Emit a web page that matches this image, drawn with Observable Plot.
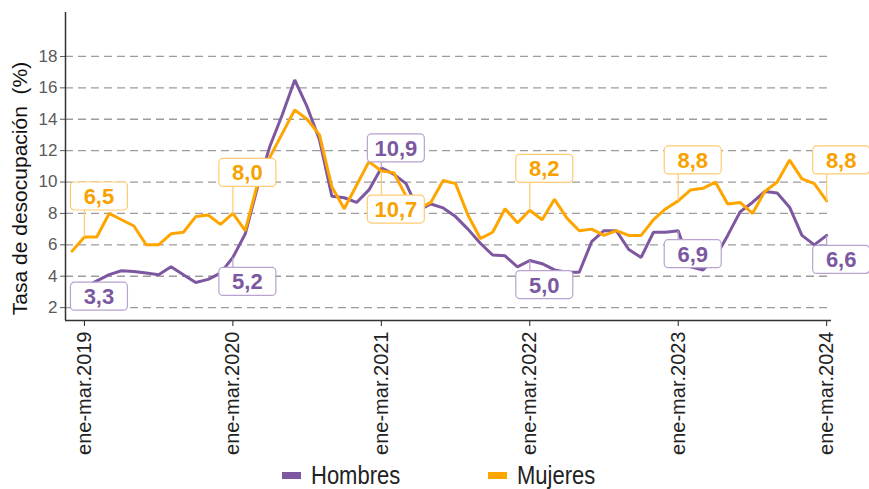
<!DOCTYPE html>
<html><head><meta charset="utf-8">
<script src="https://cdn.jsdelivr.net/npm/d3@7"></script>
<script src="https://cdn.jsdelivr.net/npm/@observablehq/plot@0.6"></script>
<style>
body{margin:0;background:#fff;}
#wrap{position:relative;width:869px;height:489px;overflow:hidden;}
.leg{position:absolute;top:461px;height:28px;display:flex;align-items:center;font-family:"Liberation Sans",Arial,sans-serif;font-size:25px;color:#222;line-height:28px;}
.leg .t{display:inline-block;transform:scaleX(0.88);transform-origin:left center;white-space:nowrap;}
.sw{display:inline-block;width:19px;height:7px;margin-right:10px;}
</style></head><body>
<div id="wrap"><div id="chart"></div>
<div class="leg" style="left:282px"><span class="sw" style="background:#7D58A0"></span><span class="t">Hombres</span></div>
<div class="leg" style="left:488px"><span class="sw" style="background:#FFA500"></span><span class="t">Mujeres</span></div>
</div>
<script>
// Rolling quarters, dic-feb 2019 .. ene-mar 2024
const periods = [
  "dic-feb.2019",
  "ene-mar.2019","feb-abr.2019","mar-may.2019","abr-jun.2019","may-jul.2019","jun-ago.2019","jul-sep.2019","ago-oct.2019","sep-nov.2019","oct-dic.2019","nov-ene.2020","dic-feb.2020",
  "ene-mar.2020","feb-abr.2020","mar-may.2020","abr-jun.2020","may-jul.2020","jun-ago.2020","jul-sep.2020","ago-oct.2020","sep-nov.2020","oct-dic.2020","nov-ene.2021","dic-feb.2021",
  "ene-mar.2021","feb-abr.2021","mar-may.2021","abr-jun.2021","may-jul.2021","jun-ago.2021","jul-sep.2021","ago-oct.2021","sep-nov.2021","oct-dic.2021","nov-ene.2022","dic-feb.2022",
  "ene-mar.2022","feb-abr.2022","mar-may.2022","abr-jun.2022","may-jul.2022","jun-ago.2022","jul-sep.2022","ago-oct.2022","sep-nov.2022","oct-dic.2022","nov-ene.2023","dic-feb.2023",
  "ene-mar.2023","feb-abr.2023","mar-may.2023","abr-jun.2023","may-jul.2023","jun-ago.2023","jul-sep.2023","ago-oct.2023","sep-nov.2023","oct-dic.2023","nov-ene.2024","dic-feb.2024",
  "ene-mar.2024"
];
const hombres = [
  3.2,
  3.3,3.7,4.1,4.35,4.3,4.2,4.1,4.6,4.1,3.6,3.8,4.2,
  5.2,6.7,9.7,12.3,14.3,16.5,14.8,12.7,9.1,9.0,8.7,9.5,
  10.9,10.5,9.9,8.2,8.6,8.35,7.8,7.0,6.1,5.35,5.3,4.6,
  5.0,4.8,4.4,4.25,4.25,6.2,6.9,6.9,5.7,5.2,6.8,6.8,
  6.9,4.6,4.4,5.2,6.6,8.1,8.7,9.4,9.3,8.4,6.6,6.0,
  6.6
];
const mujeres = [
  5.6,
  6.5,6.5,8.0,7.6,7.2,6.0,6.0,6.7,6.8,7.8,7.9,7.3,
  8.0,6.9,9.9,11.6,13.1,14.6,14.0,13.0,9.7,8.3,9.8,11.3,
  10.7,10.6,9.1,8.3,8.7,10.1,9.9,7.9,6.4,6.8,8.3,7.4,
  8.2,7.6,8.9,7.7,6.9,7.0,6.6,6.9,6.6,6.6,7.6,8.3,
  8.8,9.5,9.6,10.0,8.6,8.7,8.0,9.4,10.0,11.4,10.2,9.9,
  8.8
];
const series = ["Hombres","Mujeres"];
const yTicks = [2,4,6,8,10,12,14,16,18];
const xTicks = [1,13,25,37,49,61];
const labelK = [1,13,25,37,49,61];
const labelHombres = [3.3,5.2,10.9,5.0,6.9,6.6];
const labelMujeres = [6.5,8.0,10.7,8.2,8.8,8.8];

const PURPLE = "#7D58A0", ORANGE = "#FFA500";
const PURPLE_TXT = "#7B58A0", ORANGE_TXT = "#F7A200";
const PURPLE_BOX = "#B8A2D0", ORANGE_BOX = "#FFCB70";
// box vertical offsets (px, box centre relative to point)
const offH = [9,24,-20,24,23,24];
const offM = [-41,-41,38,-42,-41,-41];

const data = [];
periods.forEach((p,k)=>{
  data.push({k, period:p, sexo:"Hombres", v:hombres[k]});
  data.push({k, period:p, sexo:"Mujeres", v:mujeres[k]});
});
const fmt = v => d3.format(".1f")(v).replace(".", ",");

function boxSymbol(c){
  const w=57, h=28, left=-14, r=4;
  return {draw(ctx){
    const top=c-h/2, bot=c+h/2, right=left+w;
    ctx.moveTo(left+r, top);
    ctx.lineTo(right-r, top);
    ctx.arcTo(right, top, right, top+r, r);
    ctx.lineTo(right, bot-r);
    ctx.arcTo(right, bot, right-r, bot, r);
    ctx.lineTo(left+r, bot);
    ctx.arcTo(left, bot, left, bot-r, r);
    ctx.lineTo(left, top+r);
    ctx.arcTo(left, top, left+r, top, r);
    ctx.closePath();
    if (bot < 0) { ctx.moveTo(0,0); ctx.lineTo(0,bot); }
    else if (top > 0) { ctx.moveTo(0,0); ctx.lineTo(0,top); }
  }};
}
const labelMarks = [];
function addLabels(vals, offs, boxCol, txtCol){
  vals.forEach((v,j)=>{
    const row = [{k:labelK[j], v, t:fmt(v)}];
    labelMarks.push(Plot.dot(row, {x:"k", y:"v", r:5, symbol: boxSymbol(offs[j]), fill:"white", stroke: boxCol, strokeWidth:1.2}));
    labelMarks.push(Plot.text(row, {x:"k", y:"v", text:"t", dx:14.5, dy:offs[j]+1, fontSize:22, fontWeight:"bold", fill: txtCol}));
  });
}
addLabels(labelHombres, offH, PURPLE_BOX, PURPLE_TXT);
addLabels(labelMujeres, offM, ORANGE_BOX, ORANGE_TXT);

const X0 = -0.53, X1 = 61.39, Y0 = 1.18, Y1 = 20.8;
const chart = Plot.plot({
  width: 869, height: 460,
  marginLeft: 65, marginRight: 38, marginTop: 12, marginBottom: 140,
  style: {fontFamily: "'Liberation Sans', Arial, sans-serif", background: "#fff"},
  x: {domain: [X0, X1]},
  y: {domain: [Y0, Y1]},
  color: {domain: series, range: [PURPLE, ORANGE]},
  marks: [
    Plot.gridY(yTicks, {stroke:"#9c9c9c", strokeOpacity:1, strokeDasharray:"8,5", strokeWidth:1.3}),
    Plot.axisY(yTicks, {tickSize:5, tickPadding:3, fontSize:17, color:"#5a5a5a", label:null}),
    Plot.axisX(xTicks, {tickFormat: k => periods[k], tickRotate:-90, fontSize:20, tickSize:6, tickPadding:5, label:null, color:"#222"}),
    Plot.ruleX([X0], {stroke:"#333", strokeWidth:1.5}),
    Plot.ruleY([Y0], {stroke:"#333", strokeWidth:1.5}),
    Plot.line(data.filter(d=>d.sexo==="Hombres"), {x:"k", y:"v", stroke:"sexo", strokeWidth:3, strokeLinejoin:"miter"}),
    Plot.line(data.filter(d=>d.sexo==="Mujeres"), {x:"k", y:"v", stroke:"sexo", strokeWidth:3, strokeLinejoin:"miter"}),
    ...labelMarks,
    Plot.text(["Tasa de desocupación  (%)"], {frameAnchor:"left", textAnchor:"middle", dx:-45, dy:22, rotate:-90, fontSize:21, fill:"#111"})
  ]
});
document.getElementById("chart").appendChild(chart);
</script>
</body></html>
